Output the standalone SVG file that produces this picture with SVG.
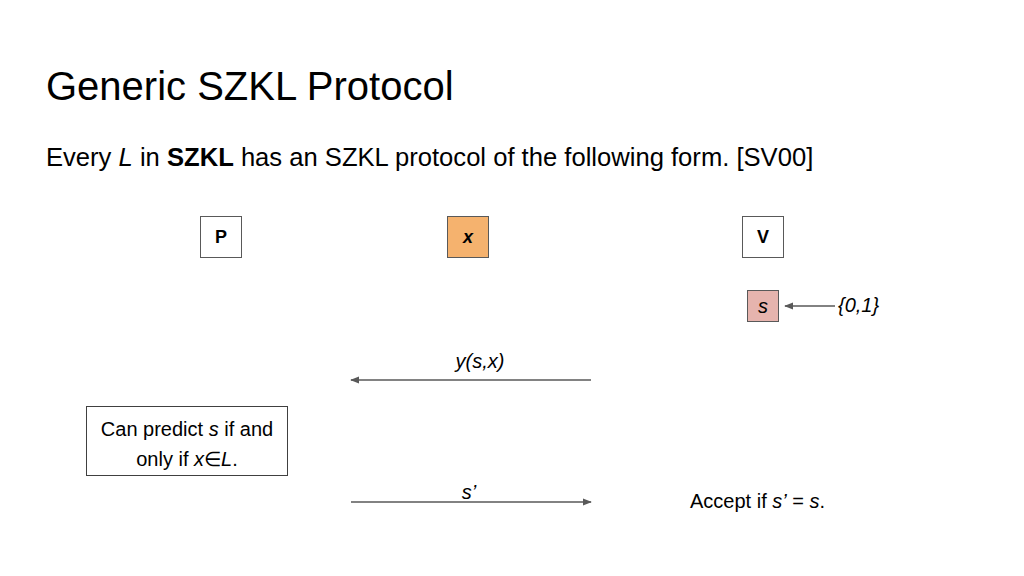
<svg xmlns="http://www.w3.org/2000/svg" width="1024" height="576" viewBox="0 0 1024 576">
<defs>
<style>
text{font-family:"Liberation Sans",Arial,sans-serif;fill:#000}
.box{stroke:#595959;stroke-width:1}
.lbl{font-size:18px;font-weight:bold;text-anchor:middle}
.sm{font-size:20px}
.conn{stroke:#595959;stroke-width:1.5;fill:none}
</style>
<marker id="ah" viewBox="0 0 10 10" refX="9" refY="5" markerWidth="9" markerHeight="9" orient="auto" markerUnits="userSpaceOnUse">
<path d="M0,1 L10,5 L0,9 z" fill="#595959"/>
</marker>
</defs>
<rect width="1024" height="576" fill="#fff"/>
<text x="46" y="100" font-size="40">Generic SZKL Protocol</text>
<text x="46" y="166" font-size="25.6">Every <tspan font-style="italic">L</tspan> in <tspan font-weight="bold">SZKL</tspan> has an SZKL protocol of the following form. [SV00]</text>
<g id="node-P">
<rect class="box" x="200.5" y="216.5" width="41" height="41" fill="#fff"/>
<text class="lbl" x="221" y="243">P</text>
</g>
<g id="node-x">
<rect class="box" x="447.5" y="216.5" width="41" height="41" fill="#F5B26E"/>
<text class="lbl" x="468" y="243" font-style="italic">x</text>
</g>
<g id="node-V">
<rect class="box" x="742.5" y="216.5" width="41" height="41" fill="#fff"/>
<text class="lbl" x="763" y="243">V</text>
</g>
<g id="node-s">
<rect class="box" x="747.5" y="290.5" width="31" height="31" fill="#E6B4AE"/>
<text class="sm" x="763" y="313" text-anchor="middle" font-style="italic">s</text>
</g>
<g id="node-01">
<text class="sm" x="838" y="312" font-style="italic">{0,1}</text>
</g>
<g id="node-predict">
<rect x="86.5" y="406.5" width="201" height="69" fill="#fff" stroke="#404040" stroke-width="1"/>
<text class="sm" x="187" y="436" text-anchor="middle">Can predict <tspan font-style="italic">s</tspan> if and</text>
<text class="sm" x="187" y="466" text-anchor="middle">only if <tspan font-style="italic">x</tspan>∈<tspan font-style="italic">L</tspan>.</text>
</g>
<g id="node-accept">
<text class="sm" x="690" y="508">Accept if <tspan font-style="italic">s’</tspan> = <tspan font-style="italic">s</tspan>.</text>
</g>
<g id="connectors">
<line class="conn" x1="835" y1="306" x2="785" y2="306" marker-end="url(#ah)"/>
<line class="conn" x1="591" y1="380" x2="351" y2="380" marker-end="url(#ah)"/>
<text class="sm" x="480" y="368" text-anchor="middle" font-style="italic">y(s,x)</text>
<line class="conn" x1="351" y1="502" x2="591" y2="502" marker-end="url(#ah)"/>
<text class="sm" x="469" y="499" text-anchor="middle" font-style="italic">s’</text>
</g>
</svg>
